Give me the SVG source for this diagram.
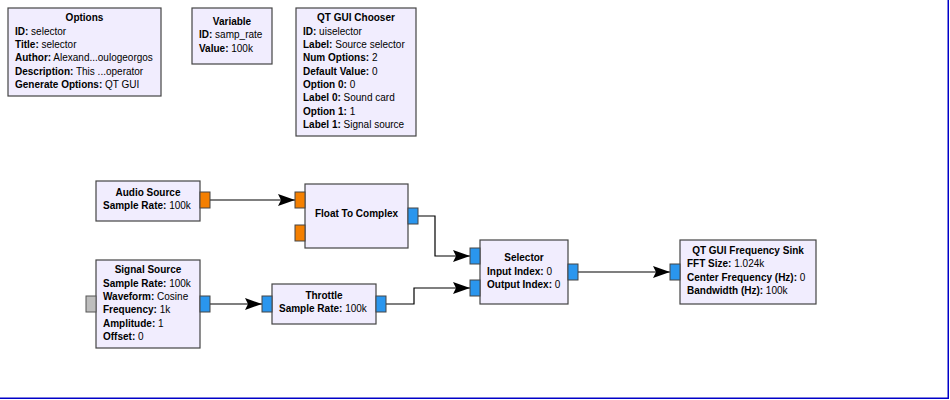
<svg xmlns="http://www.w3.org/2000/svg" width="950" height="400" viewBox="0 0 950 400">
<style>
.blk{fill:#F1EDFE;stroke:#444;stroke-width:1.2}
.t{font-family:"Liberation Sans",Arial,sans-serif;font-size:10px;fill:#000}
.ti{font-weight:bold;text-anchor:middle}
.k{font-weight:bold}
.po{fill:#F47F00;stroke:#444;stroke-width:1}
.pb{fill:#2A96EE;stroke:#444;stroke-width:1}
.pg{fill:#BDBDBD;stroke:#555;stroke-width:1}
.c{fill:none;stroke:#000;stroke-width:1.2}
</style>
<defs>
<marker id="ah" viewBox="0 0 17 12" refX="17" refY="6" markerWidth="17" markerHeight="12" markerUnits="userSpaceOnUse" orient="auto">
<path d="M0,0 L17,6 L0,12 L3,6 z" fill="#000"/>
</marker>
</defs>
<rect x="0" y="0" width="950" height="400" fill="#fff"/>
<path d="M948.25,0 V398.25 H0" fill="none" stroke="#0000C8" stroke-width="1.5"/>

<g id="connectors">
<path class="c" d="M210,200 H295" marker-end="url(#ah)"/>
<path class="c" d="M418,216 H435 V256 H470" marker-end="url(#ah)"/>
<path class="c" d="M210,304 H262" marker-end="url(#ah)"/>
<path class="c" d="M386,304 H414 V288 H470" marker-end="url(#ah)"/>
<path class="c" d="M578,272 H670" marker-end="url(#ah)"/>
</g>

<g id="options">
<rect class="blk" x="8" y="8" width="153" height="88"/>
<text class="t ti" x="84.5" y="21">Options</text>
<text class="t" x="15" y="34.8"><tspan class="k">ID:</tspan> selector</text>
<text class="t" x="15" y="48.1"><tspan class="k">Title:</tspan> selector</text>
<text class="t" x="15" y="61.4"><tspan class="k">Author:</tspan> Alexand...oulogeorgos</text>
<text class="t" x="15" y="74.7"><tspan class="k">Description:</tspan> This ...operator</text>
<text class="t" x="15" y="88"><tspan class="k">Generate Options:</tspan> QT GUI</text>
</g>

<g id="variable">
<rect class="blk" x="192" y="8" width="80" height="56"/>
<text class="t ti" x="232" y="25">Variable</text>
<text class="t" x="199" y="38.3"><tspan class="k">ID:</tspan> samp_rate</text>
<text class="t" x="199" y="51.6"><tspan class="k">Value:</tspan> 100k</text>
</g>

<g id="chooser">
<rect class="blk" x="296" y="8" width="120" height="128"/>
<text class="t ti" x="356" y="21">QT GUI Chooser</text>
<text class="t" x="303" y="34.8"><tspan class="k">ID:</tspan> uiselector</text>
<text class="t" x="303" y="48.1"><tspan class="k">Label:</tspan> Source selector</text>
<text class="t" x="303" y="61.4"><tspan class="k">Num Options:</tspan> 2</text>
<text class="t" x="303" y="74.7"><tspan class="k">Default Value:</tspan> 0</text>
<text class="t" x="303" y="88"><tspan class="k">Option 0:</tspan> 0</text>
<text class="t" x="303" y="101.3"><tspan class="k">Label 0:</tspan> Sound card</text>
<text class="t" x="303" y="114.6"><tspan class="k">Option 1:</tspan> 1</text>
<text class="t" x="303" y="127.9"><tspan class="k">Label 1:</tspan> Signal source</text>
</g>

<g id="audio_source">
<rect class="blk" x="96" y="181" width="104" height="40"/>
<rect class="po" x="200" y="192" width="10" height="16"/>
<text class="t ti" x="148" y="196">Audio Source</text>
<text class="t" x="103" y="209.3"><tspan class="k">Sample Rate:</tspan> 100k</text>
</g>

<g id="float_to_complex">
<rect class="blk" x="305" y="184" width="103" height="64"/>
<rect class="po" x="295" y="192" width="10" height="16"/>
<rect class="po" x="295" y="225" width="10" height="16"/>
<rect class="pb" x="408" y="208" width="10" height="16"/>
<text class="t ti" x="356.5" y="217">Float To Complex</text>
</g>

<g id="signal_source">
<rect class="blk" x="96" y="260" width="104" height="88"/>
<rect class="pg" x="86" y="296" width="10" height="16"/>
<rect class="pb" x="200" y="296" width="10" height="16"/>
<text class="t ti" x="148" y="273">Signal Source</text>
<text class="t" x="103" y="286.8"><tspan class="k">Sample Rate:</tspan> 100k</text>
<text class="t" x="103" y="300.1"><tspan class="k">Waveform:</tspan> Cosine</text>
<text class="t" x="103" y="313.4"><tspan class="k">Frequency:</tspan> 1k</text>
<text class="t" x="103" y="326.7"><tspan class="k">Amplitude:</tspan> 1</text>
<text class="t" x="103" y="340"><tspan class="k">Offset:</tspan> 0</text>
</g>

<g id="throttle">
<rect class="blk" x="272" y="284" width="104" height="40"/>
<rect class="pb" x="262" y="296" width="10" height="16"/>
<rect class="pb" x="376" y="296" width="10" height="16"/>
<text class="t ti" x="324" y="299">Throttle</text>
<text class="t" x="279" y="312.3"><tspan class="k">Sample Rate:</tspan> 100k</text>
</g>

<g id="selector">
<rect class="blk" x="480" y="240" width="88" height="64"/>
<rect class="pb" x="470" y="248" width="10" height="16"/>
<rect class="pb" x="470" y="280" width="10" height="16"/>
<rect class="pb" x="568" y="264" width="10" height="16"/>
<text class="t ti" x="524" y="261">Selector</text>
<text class="t" x="487" y="274.5"><tspan class="k">Input Index:</tspan> 0</text>
<text class="t" x="487" y="287.8"><tspan class="k">Output Index:</tspan> 0</text>
</g>

<g id="freq_sink">
<rect class="blk" x="680" y="240" width="136" height="64"/>
<rect class="pb" x="670" y="264" width="10" height="16"/>
<text class="t ti" x="748" y="254">QT GUI Frequency Sink</text>
<text class="t" x="687" y="267.4"><tspan class="k">FFT Size:</tspan> 1.024k</text>
<text class="t" x="687" y="280.8"><tspan class="k">Center Frequency (Hz):</tspan> 0</text>
<text class="t" x="687" y="294.2"><tspan class="k">Bandwidth (Hz):</tspan> 100k</text>
</g>
</svg>
